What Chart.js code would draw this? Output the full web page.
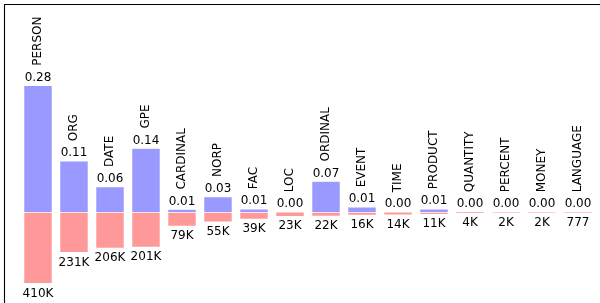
<!DOCTYPE html>
<html>
<head>
<meta charset="utf-8">
<script src="https://cdn.jsdelivr.net/npm/chart.js@4/dist/chart.umd.min.js"></script>
<style>
  html, body { margin: 0; padding: 0; background: #fff; overflow: hidden; }
  canvas { display: block; }
</style>
</head>
<body>
<canvas id="c" width="600" height="303"></canvas>
<script>
const categories = ["PERSON","ORG","DATE","GPE","CARDINAL","NORP","FAC","LOC","ORDINAL","EVENT","TIME","PRODUCT","QUANTITY","PERCENT","MONEY","LANGUAGE"];
const scores = [0.28, 0.113, 0.056, 0.141, 0.006, 0.034, 0.007, 0, 0.068, 0.011, 0, 0.007, 0, 0, 0, 0];
const counts = [410000, 231000, 206000, 201000, 79000, 55000, 39000, 23000, 22000, 16000, 14000, 11000, 4000, 2000, 2000, 777];

const FONT = '12px "DejaVu Sans"';

function fmtCount(v) {
  return v >= 1000 ? Math.round(v / 1000) + 'K' : String(v);
}

const labelPlugin = {
  id: 'barLabels',
  afterDatasetsDraw(chart) {
    const ctx = chart.ctx;
    const blue = chart.getDatasetMeta(0).data;
    const red = chart.getDatasetMeta(1).data;
    ctx.save();
    ctx.fillStyle = '#000';
    ctx.font = FONT;
    for (let i = 0; i < categories.length; i++) {
      const b = blue[i];
      const top = Math.min(b.y, b.base);
      const vBase = top - 5;
      ctx.textAlign = 'center';
      ctx.textBaseline = 'alphabetic';
      ctx.fillText(scores[i].toFixed(2), b.x, vBase);
      ctx.save();
      ctx.translate(b.x + 3, vBase - 15);
      ctx.rotate(-Math.PI / 2);
      ctx.textAlign = 'left';
      ctx.textBaseline = 'alphabetic';
      ctx.fillText(categories[i], 0, 0);
      ctx.restore();
      const r = red[i];
      const bottom = Math.max(r.y, r.base);
      ctx.textAlign = 'center';
      ctx.fillText(fmtCount(counts[i]), r.x, bottom + 13.2);
    }
    ctx.restore();
  }
};

const framePlugin = {
  id: 'frame',
  afterDraw(chart) {
    const ctx = chart.ctx;
    const a = chart.chartArea;
    ctx.save();
    ctx.strokeStyle = '#000';
    ctx.lineWidth = 1.1;
    ctx.beginPath();
    ctx.moveTo(a.left + 0.5, chart.height);
    ctx.lineTo(a.left + 0.5, a.top + 0.5);
    ctx.lineTo(chart.width, a.top + 0.5);
    ctx.stroke();
    ctx.restore();
  }
};

new Chart(document.getElementById('c'), {
  type: 'bar',
  data: {
    datasets: [
      {
        data: scores.map((v, i) => ({ x: i, y: v })),
        yAxisID: 'y',
        backgroundColor: '#9999ff',
        borderColor: 'rgba(255,255,255,0.85)',
        borderWidth: 0.6,
        borderSkipped: false,
        barThickness: 28,
        grouped: false
      },
      {
        data: counts.map((v, i) => ({ x: i, y: v })),
        yAxisID: 'y2',
        backgroundColor: '#ff9999',
        borderColor: 'rgba(255,255,255,0.85)',
        borderWidth: 0.6,
        borderSkipped: false,
        barThickness: 28,
        grouped: false
      }
    ]
  },
  options: {
    responsive: false,
    animation: false,
    devicePixelRatio: 1,
    layout: { padding: { left: 4, top: 4, right: 0, bottom: 0 } },
    plugins: { legend: { display: false }, tooltip: { enabled: false } },
    scales: {
      x: { type: 'linear', offset: false, min: -0.9444, max: 15.611, display: false, grid: { offset: false } },
      y: { type: 'linear', min: -0.2006, max: 0.4607, display: false },
      y2: { type: 'linear', reverse: true, min: -1203000, max: 523700, display: false }
    }
  },
  plugins: [labelPlugin, framePlugin]
});
</script>
</body>
</html>
